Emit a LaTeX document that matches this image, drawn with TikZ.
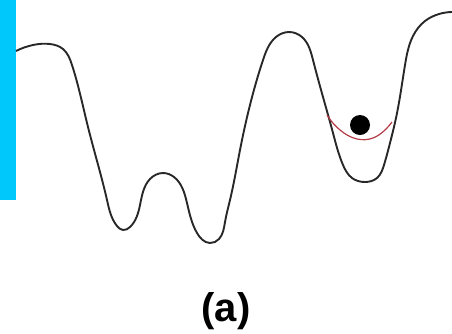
\documentclass[tikz,border=0pt]{standalone}
\usepackage{fontspec}
\setmainfont{Liberation Sans}
\usetikzlibrary{hobby}
\definecolor{barcyan}{RGB}{0,200,250}
\definecolor{curvegray}{RGB}{40,40,40}
\definecolor{wellred}{RGB}{180,60,70}
\begin{document}
\begin{tikzpicture}[x=1pt,y=-1pt,
  landscape/.style={draw=curvegray,line width=1.9pt},
  level/.style={draw=wellred,line width=1.2pt},
  caption/.style={font=\fontsize{40}{48}\selectfont\bfseries,inner sep=0pt}]
\useasboundingbox (0,0) rectangle (452,333);
\fill[barcyan] (0,0) rectangle (16,200);
\draw[landscape] (16,51) to[curve through={(33,45) (50,44) (63,49) (72,65) (88,127)
 (107,200) (117,226) (123,230) (130,227) (140,205) (150,179) (163,173) (174,177)
 (187,203) (197,233) (210,243) (219,239) (225,222) (230,200) (240,150)
 (263,60) (276,37) (289,32) (302,37) (313,60) (323,97) (333,133) (343,165)
 (352,178) (365,182) (377,178) (384,165) (390,143) (396,118) (405,65) (413,36)
 (425,21) (439,14)}] (452,12);
\draw[level] (327,115) to[curve through={(340,130) (357,139) (373,138) (385,130)}] (392,122);
\fill[black] (360,125) circle (10);
\node[caption] (label) at (226,311) {(a)};
\end{tikzpicture}
\end{document}
